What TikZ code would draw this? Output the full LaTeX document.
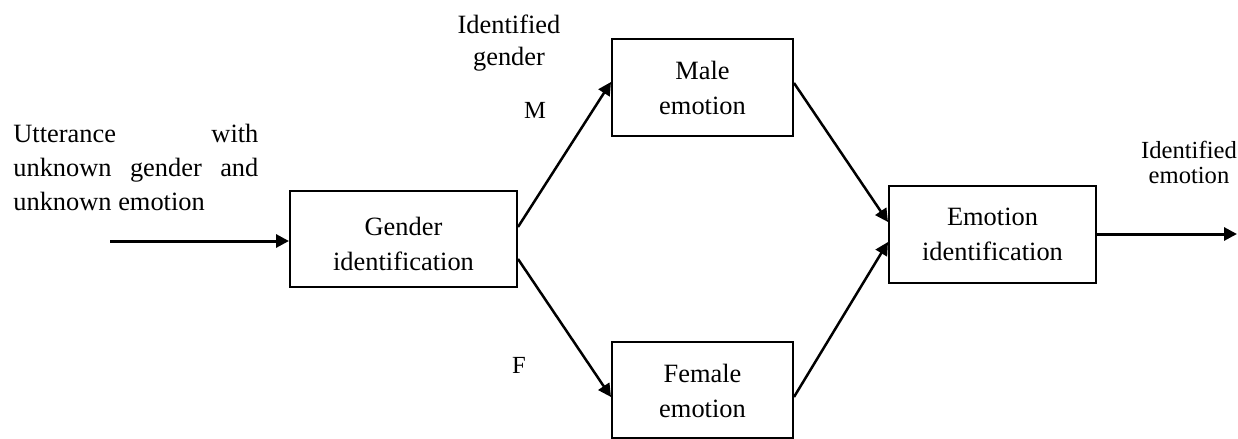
\documentclass[tikz,border=0pt]{standalone}
\usepackage{fontspec}
\setmainfont{Liberation Serif}
\usetikzlibrary{arrows.meta}
\begin{document}
\begin{tikzpicture}[x=0.5pt,y=-0.5pt,
  blk/.style={draw,line width=1pt,inner sep=0pt},
  blktext/.style={inner sep=0pt,align=center,font=\fontsize{13.2}{17.5}\selectfont},
  conn/.style={line width=1.25pt,-{Triangle[length=6.5pt,width=6.5pt]}},
  lbl/.style={inner sep=0pt,font=\fontsize{12.3}{13}\selectfont}]
\useasboundingbox (0,0) rectangle (1238,439);
\node[blk,minimum width=113.5pt,minimum height=48pt] (g) at (403.5,239) {};
\node[blk,minimum width=90.5pt,minimum height=48.5pt] (m) at (702.5,87.5) {};
\node[blk,minimum width=90.5pt,minimum height=48pt] (f) at (702.5,390) {};
\node[blk,minimum width=103.5pt,minimum height=48.5pt] (e) at (992.5,234.5) {};
\node[blktext] (gt) at ([yshift=-2.5pt]g.center) {Gender\\identification};
\node[blktext] (mt) at (m.center) {Male\\emotion};
\node[blktext] (ft) at ([yshift=-0.5pt]f.center) {Female\\emotion};
\node[blktext] (et) at (e.center) {Emotion\\identification};
\node[inner sep=0pt,anchor=base west,text width=122.5pt,align=justify,
  font=\fontsize{13.2}{17}\selectfont] (u) at (13,142)
  {Utterance\hfill with\\unknown\hfill gender\hfill and\\unknown emotion};
\node[inner sep=0pt,anchor=base,align=center,font=\fontsize{13.2}{16}\selectfont] (ig) at (509,65) {Identified\\gender};
\node[lbl,anchor=base] (lm) at (535,118) {M};
\node[lbl,anchor=base] (lf) at (519,373) {F};
\node[inner sep=0pt,anchor=base,align=center,font=\fontsize{12.3}{12.5}\selectfont] (ie) at (1189,183) {Identified\\emotion};
\coordinate (in) at (110,241);
\coordinate (out) at (1237,234);
\draw[conn,line width=1.5pt] (in) -- ([yshift=-1pt]g.west);
\draw[conn] ([yshift=6pt]g.east) -- ([yshift=2.75pt]m.west);
\draw[conn] ([yshift=-10pt]g.east) -- ([yshift=-3.5pt]f.west);
\draw[conn] ([yshift=2.25pt]m.east) -- ([yshift=6.25pt]e.west);
\draw[conn] ([yshift=-3.5pt]f.east) -- ([yshift=-3.75pt]e.west);
\draw[conn,line width=1.5pt] ([yshift=0.25pt]e.east) -- (out);
\end{tikzpicture}
\end{document}
